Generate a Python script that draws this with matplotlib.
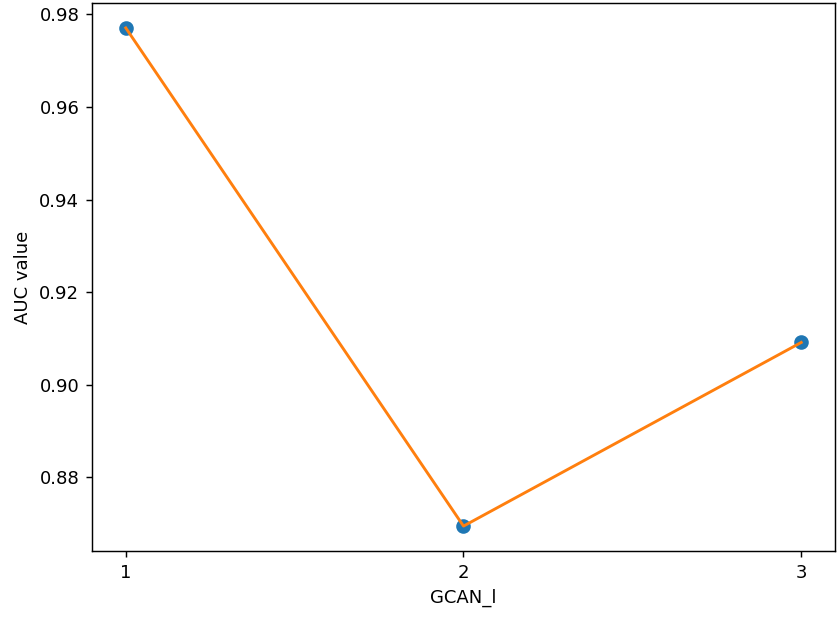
import matplotlib
matplotlib.use("Agg")
import matplotlib.pyplot as plt

layers = [1, 2, 3]
auc = [0.9771, 0.8694, 0.9091]

fig = plt.figure(figsize=(837/130, 619/130), dpi=130)
ax = fig.add_axes([92/837, 1-551/619, (835-92)/837, (551-3)/619])
ax.scatter(layers, auc, color="C0", s=50)
ax.plot(layers, auc, color="C1", lw=1.6)
ax.set_xticks(layers)
ax.set_xlabel("GCAN_l")
ax.set_ylabel("AUC value")
fig.savefig("out.png", dpi=130)
